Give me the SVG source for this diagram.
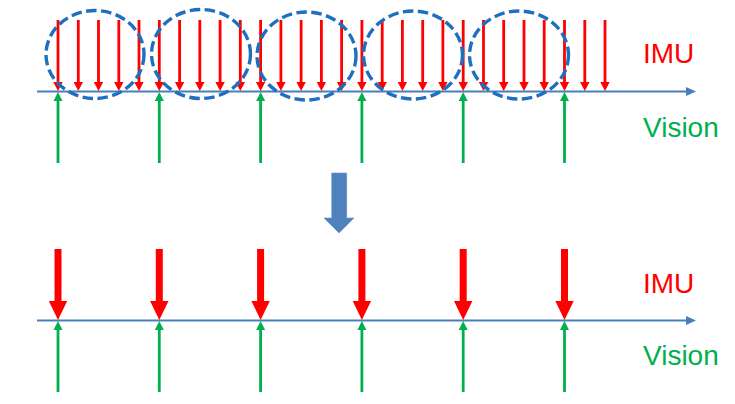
<svg xmlns="http://www.w3.org/2000/svg" width="735" height="404" viewBox="0 0 735 404">
<style>
.axis{stroke:#4A7EBB;stroke-width:2;fill:none}
.red{stroke:#FF0000;stroke-width:2.8;fill:none}
.redb{stroke:#FF0000;stroke-width:7;fill:none}
.grn{stroke:#00B050;stroke-width:2.8;fill:none}
.win{fill:none;stroke:#1F6FC0;stroke-width:3.4;stroke-dasharray:10.5 4.5}
.lbl{font-family:"Liberation Sans",Arial,sans-serif;font-size:28px}
</style>
<defs>
<marker id="ax" markerUnits="userSpaceOnUse" orient="auto" markerWidth="12" markerHeight="12" viewBox="0 -6 12 12" refX="0" refY="0" overflow="visible"><path d="M0,-4.5 L10,0 L0,4.5 z" fill="#4A7EBB"/></marker>
<marker id="rh" markerUnits="userSpaceOnUse" orient="auto" markerWidth="10" markerHeight="10" viewBox="0 -5 10 10" refX="0" refY="0" overflow="visible"><path d="M0,-4.7 L9,0 L0,4.7 z" fill="#FF0000"/></marker>
<marker id="gh" markerUnits="userSpaceOnUse" orient="auto" markerWidth="10" markerHeight="10" viewBox="0 -5 10 10" refX="0" refY="0" overflow="visible"><path d="M0,-4.5 L9,0 L0,4.5 z" fill="#00B050"/></marker>
<marker id="rb" markerUnits="userSpaceOnUse" orient="auto" markerWidth="20" markerHeight="20" viewBox="0 -10 20 20" refX="0" refY="0" overflow="visible"><path d="M0,-9.2 L19,0 L0,9.2 z" fill="#FF0000"/></marker>
</defs>

<g id="top-timeline">
<line class="axis" x1="37" y1="91.5" x2="686" y2="91.5" marker-end="url(#ax)"/>
</g>
<g id="bottom-timeline">
<line class="axis" x1="37" y1="320.5" x2="686" y2="320.5" marker-end="url(#ax)"/>
</g>

<g id="connectors">
<g id="imu-raw">
<line class="red" x1="58" y1="20" x2="58" y2="82" marker-end="url(#rh)"/>
<line class="red" x1="78.3" y1="20" x2="78.3" y2="82" marker-end="url(#rh)"/>
<line class="red" x1="98.5" y1="20" x2="98.5" y2="82" marker-end="url(#rh)"/>
<line class="red" x1="118.8" y1="20" x2="118.8" y2="82" marker-end="url(#rh)"/>
<line class="red" x1="139" y1="20" x2="139" y2="82" marker-end="url(#rh)"/>
<line class="red" x1="159.3" y1="20" x2="159.3" y2="82" marker-end="url(#rh)"/>
<line class="red" x1="179.6" y1="20" x2="179.6" y2="82" marker-end="url(#rh)"/>
<line class="red" x1="199.8" y1="20" x2="199.8" y2="82" marker-end="url(#rh)"/>
<line class="red" x1="220.1" y1="20" x2="220.1" y2="82" marker-end="url(#rh)"/>
<line class="red" x1="240.3" y1="20" x2="240.3" y2="82" marker-end="url(#rh)"/>
<line class="red" x1="260.6" y1="20" x2="260.6" y2="82" marker-end="url(#rh)"/>
<line class="red" x1="280.9" y1="20" x2="280.9" y2="82" marker-end="url(#rh)"/>
<line class="red" x1="301.1" y1="20" x2="301.1" y2="82" marker-end="url(#rh)"/>
<line class="red" x1="321.4" y1="20" x2="321.4" y2="82" marker-end="url(#rh)"/>
<line class="red" x1="341.6" y1="20" x2="341.6" y2="82" marker-end="url(#rh)"/>
<line class="red" x1="361.9" y1="20" x2="361.9" y2="82" marker-end="url(#rh)"/>
<line class="red" x1="382.2" y1="20" x2="382.2" y2="82" marker-end="url(#rh)"/>
<line class="red" x1="402.4" y1="20" x2="402.4" y2="82" marker-end="url(#rh)"/>
<line class="red" x1="422.7" y1="20" x2="422.7" y2="82" marker-end="url(#rh)"/>
<line class="red" x1="442.9" y1="20" x2="442.9" y2="82" marker-end="url(#rh)"/>
<line class="red" x1="463.2" y1="20" x2="463.2" y2="82" marker-end="url(#rh)"/>
<line class="red" x1="483.5" y1="20" x2="483.5" y2="82" marker-end="url(#rh)"/>
<line class="red" x1="503.7" y1="20" x2="503.7" y2="82" marker-end="url(#rh)"/>
<line class="red" x1="524" y1="20" x2="524" y2="82" marker-end="url(#rh)"/>
<line class="red" x1="544.2" y1="20" x2="544.2" y2="82" marker-end="url(#rh)"/>
<line class="red" x1="564.5" y1="20" x2="564.5" y2="82" marker-end="url(#rh)"/>
<line class="red" x1="584.8" y1="20" x2="584.8" y2="82" marker-end="url(#rh)"/>
<line class="red" x1="605" y1="20" x2="605" y2="82" marker-end="url(#rh)"/>
</g>
<g id="vision-top">
<line class="grn" x1="58" y1="163" x2="58" y2="101" marker-end="url(#gh)"/>
<line class="grn" x1="159.3" y1="163" x2="159.3" y2="101" marker-end="url(#gh)"/>
<line class="grn" x1="260.6" y1="163" x2="260.6" y2="101" marker-end="url(#gh)"/>
<line class="grn" x1="361.9" y1="163" x2="361.9" y2="101" marker-end="url(#gh)"/>
<line class="grn" x1="463.2" y1="163" x2="463.2" y2="101" marker-end="url(#gh)"/>
<line class="grn" x1="564.5" y1="163" x2="564.5" y2="101" marker-end="url(#gh)"/>
</g>
<g id="imu-preint">
<line class="redb" x1="58" y1="249" x2="58" y2="301" marker-end="url(#rb)"/>
<line class="redb" x1="159.3" y1="249" x2="159.3" y2="301" marker-end="url(#rb)"/>
<line class="redb" x1="260.6" y1="249" x2="260.6" y2="301" marker-end="url(#rb)"/>
<line class="redb" x1="361.9" y1="249" x2="361.9" y2="301" marker-end="url(#rb)"/>
<line class="redb" x1="463.2" y1="249" x2="463.2" y2="301" marker-end="url(#rb)"/>
<line class="redb" x1="564.5" y1="249" x2="564.5" y2="301" marker-end="url(#rb)"/>
</g>
<g id="vision-bottom">
<line class="grn" x1="58" y1="392" x2="58" y2="330" marker-end="url(#gh)"/>
<line class="grn" x1="159.3" y1="392" x2="159.3" y2="330" marker-end="url(#gh)"/>
<line class="grn" x1="260.6" y1="392" x2="260.6" y2="330" marker-end="url(#gh)"/>
<line class="grn" x1="361.9" y1="392" x2="361.9" y2="330" marker-end="url(#gh)"/>
<line class="grn" x1="463.2" y1="392" x2="463.2" y2="330" marker-end="url(#gh)"/>
<line class="grn" x1="564.5" y1="392" x2="564.5" y2="330" marker-end="url(#gh)"/>
</g>
</g>

<g id="windows">
<ellipse class="win" cx="95" cy="54.5" rx="49" ry="44"/>
<ellipse class="win" cx="201" cy="54" rx="49.5" ry="44.5"/>
<ellipse class="win" cx="306.5" cy="56" rx="49.5" ry="44"/>
<ellipse class="win" cx="413" cy="55" rx="49.5" ry="44"/>
<ellipse class="win" cx="519" cy="55" rx="49.5" ry="44"/>
</g>

<g id="transform-arrow">
<polygon points="331.7,173 346.7,173 346.7,218 354,218 339,233 324,218 331.7,218" fill="#4F81BD" stroke="#6A94C8" stroke-width="0.6"/>
</g>

<g id="labels">
<text class="lbl" x="643" y="63" fill="#FF0000">IMU</text>
<text class="lbl" x="643" y="137" fill="#00B050">Vision</text>
<text class="lbl" x="643" y="293" fill="#FF0000">IMU</text>
<text class="lbl" x="643" y="365" fill="#00B050">Vision</text>
</g>
</svg>
